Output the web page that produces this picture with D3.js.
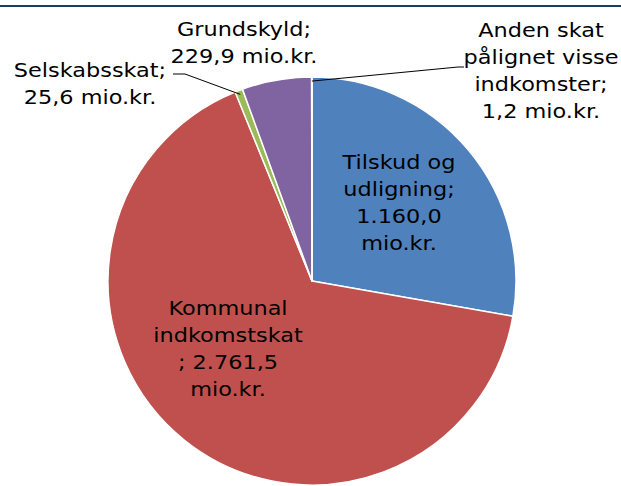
<!DOCTYPE html>
<html>
<head>
<meta charset="utf-8">
<script src="https://cdn.jsdelivr.net/npm/d3@7"></script>
<style>
  body { margin: 0; background: #fff; }
  svg { display: block; }
</style>
</head>
<body>
<div id="chart"></div>
<script>
// data (mio.kr.), clockwise from 12 o'clock
var categories = ["Tilskud og udligning", "Kommunal indkomstskat", "Selskabsskat", "Grundskyld", "Anden skat pålignet visse indkomster"];
var values = [1160.0, 2761.5, 25.6, 229.9, 1.2];
var colors = ["#4F81BD", "#C0504D", "#9BBB59", "#8064A2", "#4BACC6"];

// how Excel wrapped the category names
var nameLines = [
  ["Tilskud og", "udligning;"],
  ["Kommunal", "indkomstskat"],
  ["Selskabsskat;"],
  ["Grundskyld;"],
  ["Anden skat", "pålignet visse", "indkomster;"]
];

var width = 621, height = 486;
var cx = 312, cy = 281, radius = 204;

var svg = d3.select("#chart")
  .append("svg")
    .attr("width", width)
    .attr("height", height);

// dark rule at the top
svg.append("line")
  .attr("x1", 0).attr("x2", width)
  .attr("y1", 6).attr("y2", 6)
  .style("stroke", "#1F3B5A")
  .style("stroke-width", 2);

var da = d3.formatLocale({decimal: ",", thousands: ".", grouping: [3], currency: ["", ""]});
var fmt = da.format(",.1f");

var pie = d3.pie().sort(null).value(function(d) { return d; });
var arcs = pie(values);
var arc = d3.arc().innerRadius(0).outerRadius(radius);

var g = svg.append("g").attr("transform", "translate(" + cx + "," + cy + ")");

g.selectAll("path")
  .data(arcs)
  .enter()
  .append("path")
    .attr("d", arc)
    .style("fill", function(d, i) { return colors[i]; })
    .style("stroke", "#fff")
    .style("stroke-width", 1.5)
    .style("stroke-linejoin", "round");

// label placement (Excel layout): center x, first baseline, value split onto own lines
var labelPos = [
  {x: 399, y: 169, split: true},
  {x: 228, y: 315, split: true},
  {x: 90, y: 77, split: false, leader: [[185, 74], [173, 74]]},
  {x: 244, y: 36, split: false},
  {x: 541, y: 37, split: false, leader: [[458, 67], [464, 67]]}
];
var lineH = 27;

function labelLines(i) {
  var lines = nameLines[i].slice();
  var v = fmt(values[i]);
  if (labelPos[i].split) {
    var last = lines[lines.length - 1];
    lines.push((last.slice(-1) == ";" ? "" : "; ") + v);
    lines.push("mio.kr.");
  } else {
    lines.push(v + " mio.kr.");
  }
  return lines;
}

// leader lines from slice edge to label
var edge = d3.arc().innerRadius(radius * 0.98).outerRadius(radius * 0.98);
arcs.forEach(function(d, i) {
  var p = labelPos[i];
  if (!p.leader) return;
  var c = edge.centroid(d);
  var pts = [[cx + c[0], cy + c[1]]].concat(p.leader);
  svg.append("path")
    .attr("d", d3.line()(pts))
    .style("fill", "none")
    .style("stroke", "#000")
    .style("stroke-width", 1);
});

labelPos.forEach(function(p, i) {
  var t = svg.append("g")
    .attr("transform", "translate(" + p.x + "," + p.y + ") scale(1.12,1)")
    .append("text")
      .attr("text-anchor", "middle")
      .attr("font-family", "DejaVu Sans, Verdana, sans-serif")
      .attr("font-size", "20px")
      .attr("fill", "#000");
  labelLines(i).forEach(function(s, k) {
    t.append("tspan")
      .attr("x", 0)
      .attr("y", k * lineH)
      .text(s);
  });
});
</script>
</body>
</html>
